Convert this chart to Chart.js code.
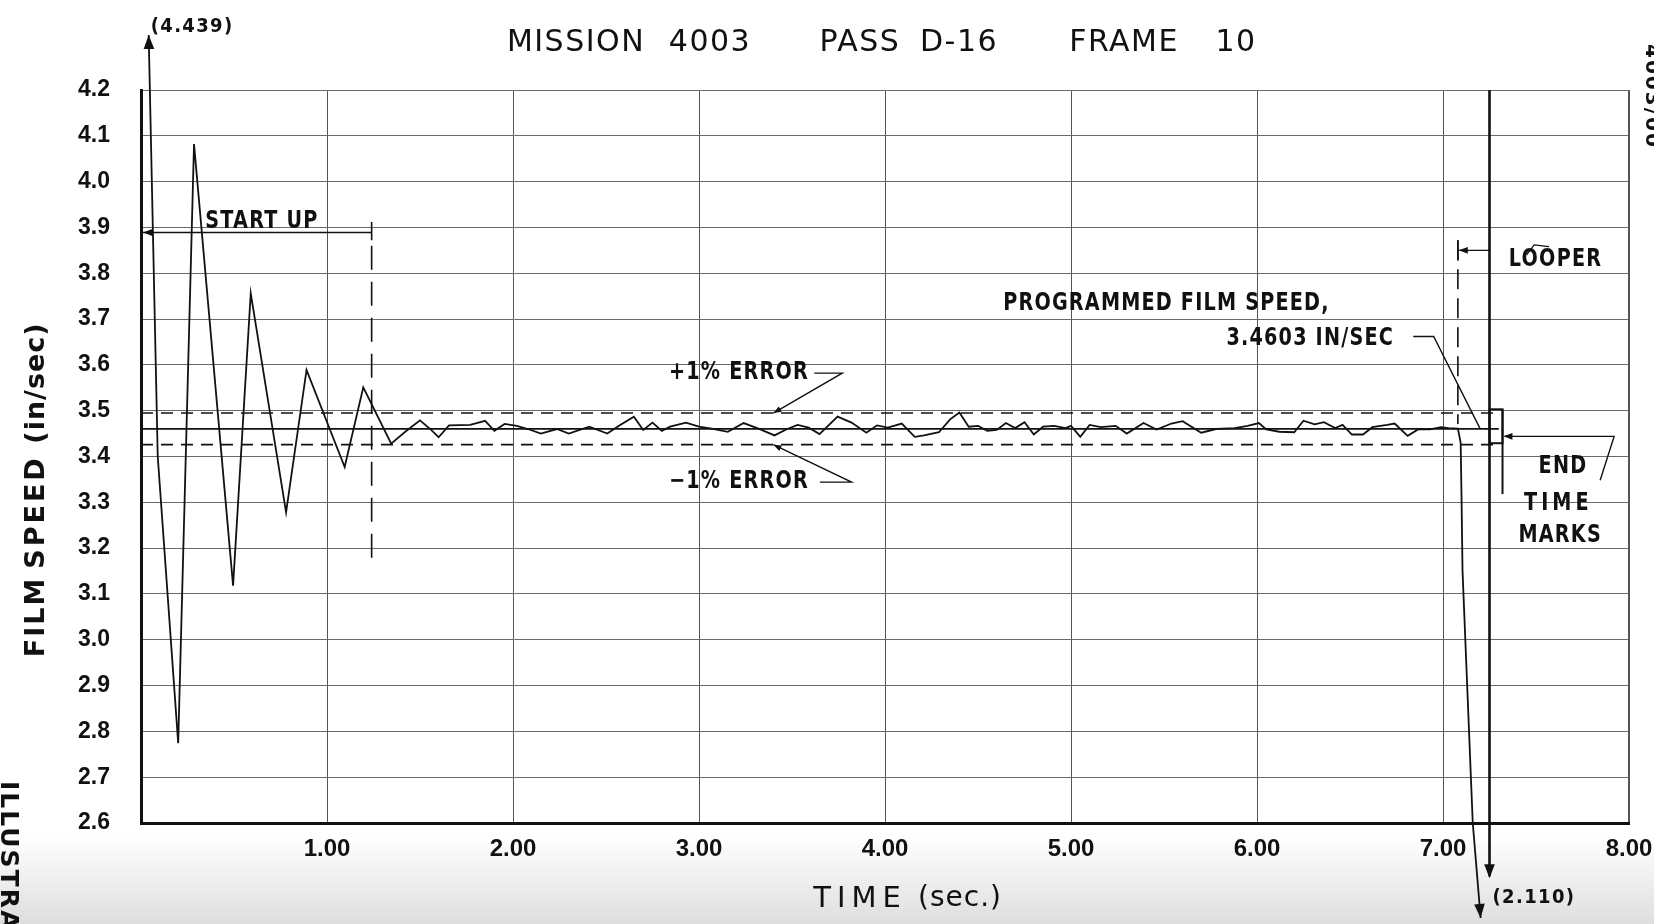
<!DOCTYPE html>
<html>
<head>
<meta charset="utf-8">
<title>Mission 4003 Pass D-16 Frame 10 - film speed</title>
<script src="https://cdn.jsdelivr.net/npm/chart.js@4.4.1/dist/chart.umd.min.js"></script>
<style>
  html, body { margin: 0; padding: 0; background: #fff; }
  canvas { display: block; }
</style>
</head>
<body>
<canvas id="speedChart" width="1654" height="924"></canvas>
<script>
// film speed trace (sec, in/sec)
var timeSec = [0.035, 0.09, 0.20, 0.285, 0.495, 0.59, 0.78, 0.89, 1.095, 1.195, 1.345,
    1.424, 1.50, 1.56, 1.60, 1.656, 1.77, 1.85, 1.90, 1.955,
    2.02, 2.08, 2.15, 2.236, 2.30, 2.41, 2.507, 2.574, 2.65, 2.70,
    2.75, 2.80, 2.845, 2.93, 3.00, 3.068, 3.155, 3.24, 3.32, 3.406,
    3.474, 3.53, 3.59, 3.648, 3.745, 3.82, 3.90, 3.957, 4.015, 4.09,
    4.16, 4.21, 4.29, 4.35, 4.40, 4.45, 4.50, 4.55, 4.60, 4.65,
    4.70, 4.75, 4.80, 4.85, 4.91, 4.97, 5.00, 5.05, 5.10, 5.16,
    5.24, 5.30, 5.39, 5.46, 5.54, 5.60, 5.70, 5.78, 5.88, 5.95,
    6.01, 6.05, 6.12, 6.20, 6.25, 6.31, 6.36, 6.42, 6.46, 6.51,
    6.57, 6.62, 6.70, 6.74, 6.81, 6.87, 6.93, 6.99, 7.03, 7.08,
    7.095, 7.10, 7.105, 7.16, 7.26];
var filmSpeed = [4.439, 3.40, 2.774, 4.082, 3.118, 3.756, 3.278, 3.589, 3.377, 3.551, 3.428,
    3.455, 3.479, 3.458, 3.442, 3.468, 3.469, 3.478, 3.456, 3.471,
    3.467, 3.460, 3.450, 3.460, 3.450, 3.465, 3.450, 3.468, 3.487, 3.458,
    3.474, 3.456, 3.465, 3.474, 3.465, 3.461, 3.454, 3.473, 3.461, 3.446,
    3.460, 3.469, 3.463, 3.449, 3.487, 3.474, 3.452, 3.468, 3.463, 3.472,
    3.443, 3.446, 3.453, 3.481, 3.496, 3.465, 3.467, 3.456, 3.458, 3.473,
    3.462, 3.475, 3.448, 3.465, 3.467, 3.462, 3.467, 3.443, 3.469, 3.464,
    3.467, 3.450, 3.473, 3.459, 3.472, 3.477, 3.452, 3.460, 3.462, 3.467,
    3.473, 3.459, 3.454, 3.453, 3.478, 3.470, 3.475, 3.462, 3.469, 3.448,
    3.448, 3.464, 3.469, 3.472, 3.445, 3.460, 3.459, 3.464, 3.462, 3.461,
    3.43, 3.30, 3.15, 2.60, 2.110];

// programmed speed and the +/-1% error band
var refTimes = [0, 7.3];
var programmedSpeed = [3.4603, 3.4603];
var plusOnePct = [3.495, 3.495];
var minusOnePct = [3.426, 3.426];

var timeTicks = [0, 1, 2, 3, 4, 5, 6, 7, 8];
var timeTickLabels = ['', '1.00', '2.00', '3.00', '4.00', '5.00', '6.00', '7.00', '8.00'];
var speedTicks = [2.6, 2.7, 2.8, 2.9, 3.0, 3.1, 3.2, 3.3, 3.4, 3.5, 3.6, 3.7, 3.8, 3.9, 4.0, 4.1, 4.2];
var speedTickLabels = ['2.6', '2.7', '2.8', '2.9', '3.0', '3.1', '3.2', '3.3', '3.4', '3.5',
    '3.6', '3.7', '3.8', '3.9', '4.0', '4.1', '4.2'];

var INK = '#111';
var CLIP_TOP = 55;      // trace runs this far above the plot before the arrow
var CLIP_BOTTOM = 95;   // and this far below it
var TICK_FONT = "'Liberation Sans', Arial, sans-serif";

function pairUp(xs, ys) {
    return xs.map(function (x, i) { return { x: x, y: ys[i] }; });
}

function label(ctx, str, x, y, o) {
    o = o || {};
    ctx.save();
    ctx.translate(x, y);
    if (o.rot) ctx.rotate(o.rot);
    ctx.scale(o.sx || 1, 1);
    ctx.font = (o.weight || 'bold') + ' ' + (o.size || 24) + 'px ' + (o.family || "'DejaVu Sans', sans-serif");
    ctx.letterSpacing = (o.ls || 0) + 'px';
    ctx.textAlign = o.align || 'center';
    ctx.textBaseline = o.base || 'middle';
    ctx.fillStyle = INK;
    ctx.fillText(str, 0, 0);
    ctx.restore();
}

function polyline(ctx, pts, width, dash) {
    ctx.save();
    ctx.strokeStyle = INK;
    ctx.lineWidth = width || 1.5;
    ctx.setLineDash(dash || []);
    ctx.beginPath();
    pts.forEach(function (p, i) { if (i === 0) ctx.moveTo(p[0], p[1]); else ctx.lineTo(p[0], p[1]); });
    ctx.stroke();
    ctx.restore();
}

function arrowHead(ctx, x, y, ang, size) {
    ctx.save();
    ctx.translate(x, y);
    ctx.rotate(ang);
    ctx.beginPath();
    ctx.moveTo(0, 0);
    ctx.lineTo(-size, -size * 0.38);
    ctx.lineTo(-size, size * 0.38);
    ctx.closePath();
    ctx.fillStyle = INK;
    ctx.fill();
    ctx.restore();
}

// where a trace segment crosses a pixel row, plus its heading
function crossing(p0, p1, yRow) {
    var f = (yRow - p0[1]) / (p1[1] - p0[1]);
    return { x: p0[0] + f * (p1[0] - p0[0]), y: yRow, ang: Math.atan2(p1[1] - p0[1], p1[0] - p0[0]) };
}

var paperPlugin = {
    id: 'paper',
    beforeDraw: function (chart) {
        var ctx = chart.ctx;
        ctx.save();
        ctx.fillStyle = '#fff';
        ctx.fillRect(0, 0, chart.width, chart.height);
        var g = ctx.createLinearGradient(0, 835, 0, chart.height);
        g.addColorStop(0, 'rgba(0,0,0,0)');
        g.addColorStop(1, 'rgba(0,0,0,0.13)');
        ctx.fillStyle = g;
        ctx.fillRect(0, 835, chart.width, chart.height - 835);
        ctx.restore();
    }
};

var notesPlugin = {
    id: 'notes',
    afterDraw: function (chart) {
        var ctx = chart.ctx, xs = chart.scales.x, ys = chart.scales.y, area = chart.chartArea;
        function P(t, v) { return [xs.getPixelForValue(t), ys.getPixelForValue(v)]; }
        var txt = { size: 24, sx: 0.8, ls: 1.5 };
        var small = { size: 20, sx: 0.9, ls: 1.5, align: 'left' };

        // title
        var tf = { weight: 'normal', size: 30, ls: 1.5 };
        label(ctx, 'MISSION', 576, 43, tf);
        label(ctx, '4003', 710, 43, tf);
        label(ctx, 'PASS', 860, 43, tf);
        label(ctx, 'D-16', 959, 43, tf);
        label(ctx, 'FRAME', 1124, 43, tf);
        label(ctx, '10', 1236, 43, tf);

        // axis titles
        label(ctx, 'TIME', 860, 899, { weight: 'normal', size: 29, ls: 6 });
        label(ctx, '(sec.)', 960, 899, { weight: 'normal', size: 28, ls: 1 });
        label(ctx, 'FILM', 37, 617, { size: 27, rot: -Math.PI / 2, ls: 2 });
        label(ctx, 'SPEED', 37, 512, { size: 27, rot: -Math.PI / 2, ls: 3 });
        label(ctx, '(in/sec)', 37, 383, { size: 27, rot: -Math.PI / 2, ls: 1 });

        // page edge fragments from the scan
        label(ctx, 'ILLUSTRA', 1, 781, { size: 25, rot: Math.PI / 2, align: 'left', base: 'alphabetic', ls: 2 });
        label(ctx, '4003/00', 1646, 44, { size: 20, rot: Math.PI / 2, align: 'left', base: 'alphabetic', ls: 2 });

        // off-scale ends of the trace
        var first = [P(timeSec[0], filmSpeed[0]), P(timeSec[1], filmSpeed[1])];
        var n = timeSec.length;
        var last = [P(timeSec[n - 2], filmSpeed[n - 2]), P(timeSec[n - 1], filmSpeed[n - 1])];
        var top = crossing(first[1], first[0], area.top - CLIP_TOP);
        arrowHead(ctx, top.x, top.y, top.ang, 14);
        var bot = crossing(last[0], last[1], area.bottom + CLIP_BOTTOM);
        arrowHead(ctx, bot.x, bot.y, bot.ang, 14);
        label(ctx, '(' + filmSpeed[0].toFixed(3) + ')', top.x + 2, top.y - 8, small);

        // start up bracket
        var s0 = P(0, 3.889), s1 = P(1.24, 3.889);
        polyline(ctx, [[s0[0] + 2, s0[1]], s1], 1.6);
        arrowHead(ctx, s0[0] + 2, s0[1], Math.PI, 10);
        polyline(ctx, [P(1.24, 3.912), P(1.24, 3.872)], 1.6);
        label(ctx, 'START UP', P(0.65, 3.889)[0], s0[1] - 11, txt);
        polyline(ctx, [P(1.24, 3.86), P(1.24, 3.164)], 1.6, [24, 12]);

        // error band notes
        var up = P(3.40, 3.4949), dn = P(3.40, 3.4257);
        label(ctx, '+1% ERROR', P(3.215, 3.582)[0], P(3.215, 3.582)[1], txt);
        polyline(ctx, [P(3.62, 3.582), P(3.77, 3.582), up], 1.4);
        arrowHead(ctx, up[0], up[1], Math.atan2(up[1] - P(3.77, 3.582)[1], up[0] - P(3.77, 3.582)[0]), 8);
        label(ctx, '\u22121% ERROR', P(3.215, 3.344)[0], P(3.215, 3.344)[1], txt);
        polyline(ctx, [P(3.65, 3.344), P(3.82, 3.344), dn], 1.4);
        arrowHead(ctx, dn[0], dn[1], Math.atan2(dn[1] - P(3.82, 3.344)[1], dn[0] - P(3.82, 3.344)[0]), 8);

        // programmed speed note
        label(ctx, 'PROGRAMMED FILM SPEED,', P(5.513, 3.734)[0], P(5.513, 3.734)[1], txt);
        label(ctx, programmedSpeed[0].toFixed(4) + ' IN/SEC', P(6.737, 3.657)[0], P(6.737, 3.657)[1], { size: 24, sx: 0.8, ls: 1.5, align: 'right' });
        polyline(ctx, [P(6.84, 3.662), P(6.95, 3.662), P(7.20, 3.4603)], 1.4);

        // looper
        polyline(ctx, [P(7.08, 3.872), P(7.08, 3.471)], 1.6, [20, 9]);
        polyline(ctx, [P(7.08, 3.85), P(7.25, 3.85)], 1.4);
        arrowHead(ctx, P(7.085, 3.85)[0], P(7.085, 3.85)[1], Math.PI, 9);
        polyline(ctx, [P(7.08, 3.872), P(7.08, 3.828)], 1.6);
        polyline(ctx, [P(7.45, 3.84), P(7.49, 3.862), P(7.57, 3.858)], 1.2);
        label(ctx, 'LOOPER', P(7.605, 3.83)[0], P(7.605, 3.83)[1], txt);

        // end time marks
        var m0 = P(7.25, 4.2), m1 = P(7.25, 2.484);
        polyline(ctx, [m0, m1], 2.6);
        arrowHead(ctx, m1[0], m1[1] + 2, Math.PI / 2, 14);
        label(ctx, '(' + filmSpeed[n - 1].toFixed(3) + ')', m1[0] + 3, m1[1] + 22, small);
        var r0 = P(7.25, 3.503), r1 = P(7.32, 3.429);
        ctx.save();
        ctx.strokeStyle = INK;
        ctx.lineWidth = 2;
        ctx.strokeRect(r0[0], r0[1], r1[0] - r0[0], r1[1] - r0[1]);
        ctx.restore();
        polyline(ctx, [P(7.32, 3.503), P(7.32, 3.318)], 2);
        polyline(ctx, [P(7.33, 3.444), P(7.92, 3.444), P(7.845, 3.348)], 1.4);
        arrowHead(ctx, P(7.325, 3.444)[0], P(7.325, 3.444)[1], Math.PI, 9);
        label(ctx, 'END', P(7.645, 3.377)[0], P(7.645, 3.377)[1], txt);
        label(ctx, 'TIME', P(7.62, 3.296)[0], P(7.62, 3.296)[1], { size: 24, sx: 0.8, ls: 5 });
        label(ctx, 'MARKS', P(7.63, 3.226)[0], P(7.63, 3.226)[1], txt);
    }
};

var lineStyle = { borderColor: INK, pointRadius: 0, tension: 0, fill: false };

var config = {
    type: 'line',
    data: {
        datasets: [
            Object.assign({ label: 'Film speed', data: pairUp(timeSec, filmSpeed), borderWidth: 1.8,
                clip: { left: 10, top: CLIP_TOP, right: 10, bottom: CLIP_BOTTOM } }, lineStyle),
            Object.assign({ label: 'Programmed', data: pairUp(refTimes, programmedSpeed), borderWidth: 1.6 }, lineStyle),
            Object.assign({ label: '+1%', data: pairUp(refTimes, plusOnePct), borderWidth: 1.6, borderDash: [12, 8] }, lineStyle),
            Object.assign({ label: '-1%', data: pairUp(refTimes, minusOnePct), borderWidth: 1.6, borderDash: [12, 8] }, lineStyle)
        ]
    },
    options: {
        responsive: false,
        devicePixelRatio: 1,
        animation: false,
        layout: { padding: { left: 0, right: 25, top: 90, bottom: 0 } },
        plugins: {
            legend: { display: false },
            tooltip: { enabled: false },
            title: { display: false }
        },
        scales: {
            x: {
                type: 'linear',
                min: 0,
                max: 8,
                afterBuildTicks: function (s) { s.ticks = timeTicks.map(function (v) { return { value: v }; }); },
                afterFit: function (s) { s.height = 101; s.paddingLeft = 0; s.paddingRight = 0; },
                ticks: {
                    autoSkip: false,
                    maxRotation: 0,
                    padding: 12,
                    color: INK,
                    font: { family: TICK_FONT, size: 24, weight: 'bold' },
                    callback: function (v, i) { return timeTickLabels[i]; }
                },
                grid: {
                    drawTicks: false,
                    color: '#555',
                    lineWidth: function (c) { return c.tick && c.tick.value === 8 ? 2 : 1; }
                },
                border: { display: true, color: INK, width: 3 }
            },
            y: {
                min: 2.6,
                max: 4.2,
                afterBuildTicks: function (s) { s.ticks = speedTicks.map(function (v) { return { value: v }; }); },
                afterFit: function (s) { s.width = 141; s.paddingTop = 0; s.paddingBottom = 0; },
                ticks: {
                    padding: 31,
                    color: INK,
                    font: { family: TICK_FONT, size: 23, weight: 'bold' },
                    callback: function (v, i) { return speedTickLabels[i]; }
                },
                grid: {
                    drawTicks: false,
                    color: '#6a6a6a',
                    lineWidth: 1
                },
                border: { display: true, color: INK, width: 3 }
            }
        }
    },
    plugins: [paperPlugin, notesPlugin]
};

var ctxSpeed = document.getElementById('speedChart').getContext('2d');
new Chart(ctxSpeed, config);
</script>
</body>
</html>
